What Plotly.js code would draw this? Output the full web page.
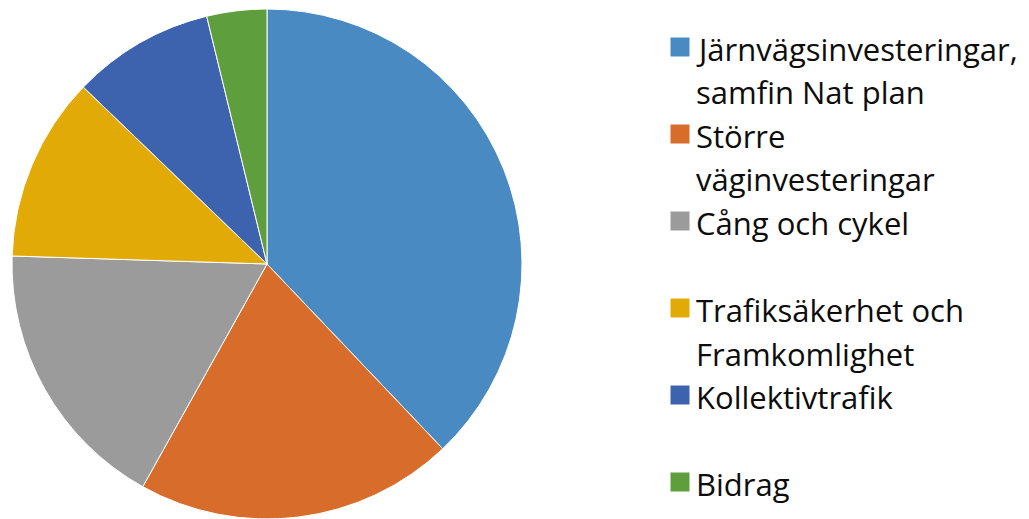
<!DOCTYPE html>
<html>
<head>
<meta charset="utf-8">
<script src="https://cdn.plot.ly/plotly-3.0.1.min.js"></script>
<style>
html,body{margin:0;padding:0;overflow:hidden;background:#fff;}
#chart{width:1029px;height:519px;}
</style>
</head>
<body>
<div id="chart"></div>
<script>
const categories = [
  'Järnvägsinvesteringar,<br>samfin Nat plan',
  'Större<br>väginvesteringar',
  'Cång och cykel',
  'Trafiksäkerhet och<br>Framkomlighet',
  'Kollektivtrafik',
  'Bidrag'
];
const values = [37.9, 20.2, 17.4, 11.7, 9.0, 3.8];
const colors = ['#4A8AC3', '#D76C2B', '#9B9B9B', '#E2AA06', '#3D63AE', '#5F9E3C'];

const W = 1029, H = 519;
const legendTop = 47, entryPitch = 87, linePitch = 43.5;
const squareX = 680, textX = 695, sq = 19;

const annotations = [];
const shapes = [];
categories.forEach((lab, i) => {
  const yc = legendTop + i * entryPitch;
  shapes.push({
    type: 'rect', xref: 'paper', yref: 'paper',
    x0: (squareX - sq / 2) / W, x1: (squareX + sq / 2) / W,
    y0: 1 - (yc + sq / 2) / H, y1: 1 - (yc - sq / 2) / H,
    fillcolor: colors[i], line: {width: 0}
  });
  lab.split('<br>').forEach((line, j) => {
    annotations.push({
      xref: 'paper', yref: 'paper',
      x: textX / W, y: 1 - (yc + j * linePitch + 2) / H,
      xanchor: 'left', yanchor: 'middle',
      text: line, showarrow: false, borderpad: 0,
      font: {family: 'Open Sans, sans-serif', size: 31, color: '#0d0d0d'}
    });
  });
});

const data = [{
  type: 'pie',
  labels: categories,
  values: values,
  sort: false,
  direction: 'clockwise',
  rotation: 0,
  textinfo: 'none',
  marker: {colors: colors, line: {color: '#ffffff', width: 1}},
  domain: {x: [12 / W, 522 / W], y: [1 - 519 / H, 1 - 9 / H]},
  showlegend: false
}];

const layout = {
  width: W, height: H,
  margin: {l: 0, r: 0, t: 0, b: 0},
  paper_bgcolor: '#fff',
  showlegend: false,
  annotations: annotations,
  shapes: shapes
};

Plotly.newPlot('chart', data, layout, {displayModeBar: false, staticPlot: true});
</script>
</body>
</html>
